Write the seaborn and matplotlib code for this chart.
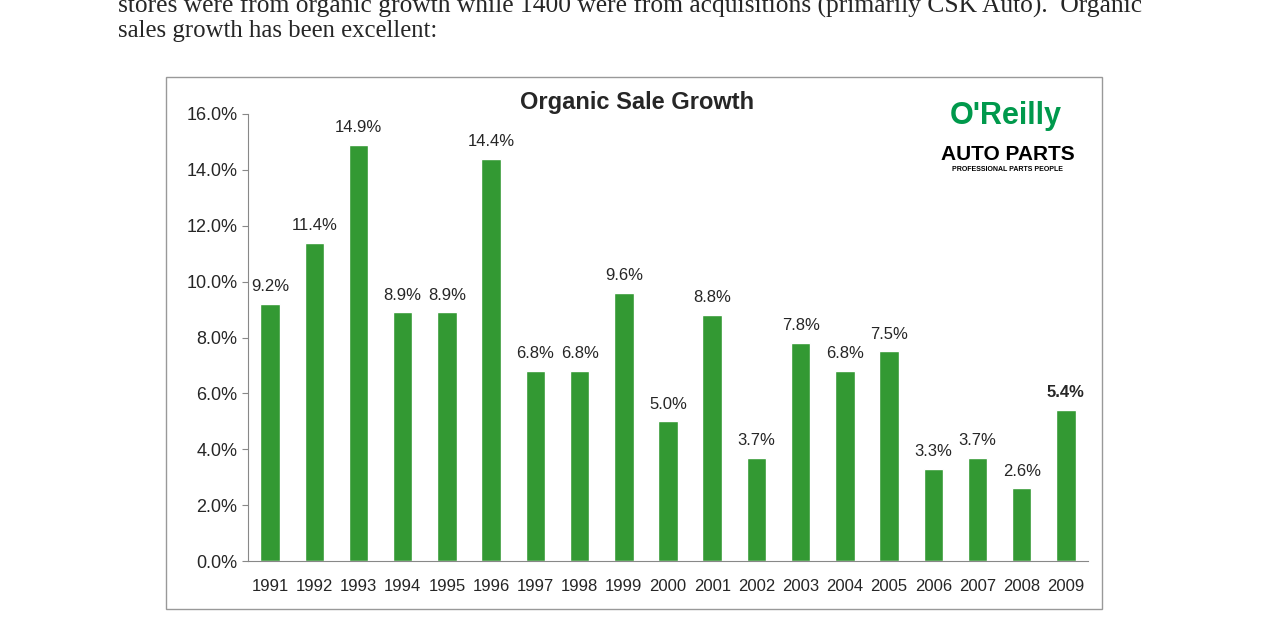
import matplotlib
matplotlib.use("Agg")
import matplotlib.pyplot as plt
import seaborn as sns
import pandas as pd
from matplotlib.patches import Rectangle

years = ["1991", "1992", "1993", "1994", "1995", "1996", "1997", "1998", "1999", "2000",
         "2001", "2002", "2003", "2004", "2005", "2006", "2007", "2008", "2009"]
growth = [9.2, 11.4, 14.9, 8.9, 8.9, 14.4, 6.8, 6.8, 9.6, 5.0,
          8.8, 3.7, 7.8, 6.8, 7.5, 3.3, 3.7, 2.6, 5.4]

df = pd.DataFrame({"year": years, "growth": growth})

sns.set_style("white")
plt.rcParams['font.family'] = ['Liberation Sans', 'DejaVu Sans']

fig = plt.figure(figsize=(12.75, 6.22), dpi=100)

# document text above the chart
fig.text(118 / 1275, 1 - 6 / 622,
         "stores were from organic growth while 1400 were from acquisitions (primarily CSK Auto).  Organic",
         family="Liberation Serif", fontsize=18.4, va="center")
fig.text(118 / 1275, 1 - 31 / 622, "sales growth has been excellent:",
         family="Liberation Serif", fontsize=17.8, va="center")

# chart frame
fig.patches.append(Rectangle((166 / 1275, 1 - 609 / 622), 936 / 1275, 532 / 622,
                             transform=fig.transFigure, fill=False,
                             edgecolor="#999999", linewidth=1))

ax = fig.add_axes([248 / 1275, 1 - 561 / 622, 840 / 1275, 447 / 622])
sns.barplot(data=df, x="year", y="growth", color="#339933", saturation=1,
            width=0.44, ax=ax)
ax.set_xlim(-0.5, 18.5)
ax.set_ylim(0, 16)
ax.set_yticks(range(0, 17, 2))
ax.set_yticklabels([f"{v:.1f}%" for v in range(0, 17, 2)], fontsize=13)
ax.tick_params(axis="x", labelsize=12, length=0, pad=13)
ax.tick_params(axis="y", left=True, length=4, color="#888888")
ax.set_xlabel("")
ax.set_ylabel("")
for s in ["top", "right"]:
    ax.spines[s].set_visible(False)
for s in ["left", "bottom"]:
    ax.spines[s].set_color("#888888")

for i, v in enumerate(growth):
    ax.text(i, v + 0.35, f"{v:.1f}%", ha="center", va="bottom", fontsize=12,
            fontweight="bold" if i == len(growth) - 1 else "normal")

fig.text(637 / 1275, 1 - 102 / 622, "Organic Sale Growth", ha="center", va="center",
         fontsize=17, fontweight="bold")

# logo
fig.text(1006 / 1275, 1 - 116 / 622, "O'Reilly", ha="center", va="center",
         fontsize=22, fontweight="bold", color="#00994C")
fig.text(1008 / 1275, 1 - 154 / 622, "AUTO PARTS", ha="center", va="center",
         fontsize=15, fontweight="heavy", color="black")
fig.text(1007 / 1275, 1 - 169 / 622, "PROFESSIONAL PARTS PEOPLE", ha="center", va="center",
         fontsize=5, fontweight="bold", color="black")

fig.savefig("out.png", dpi=100)
